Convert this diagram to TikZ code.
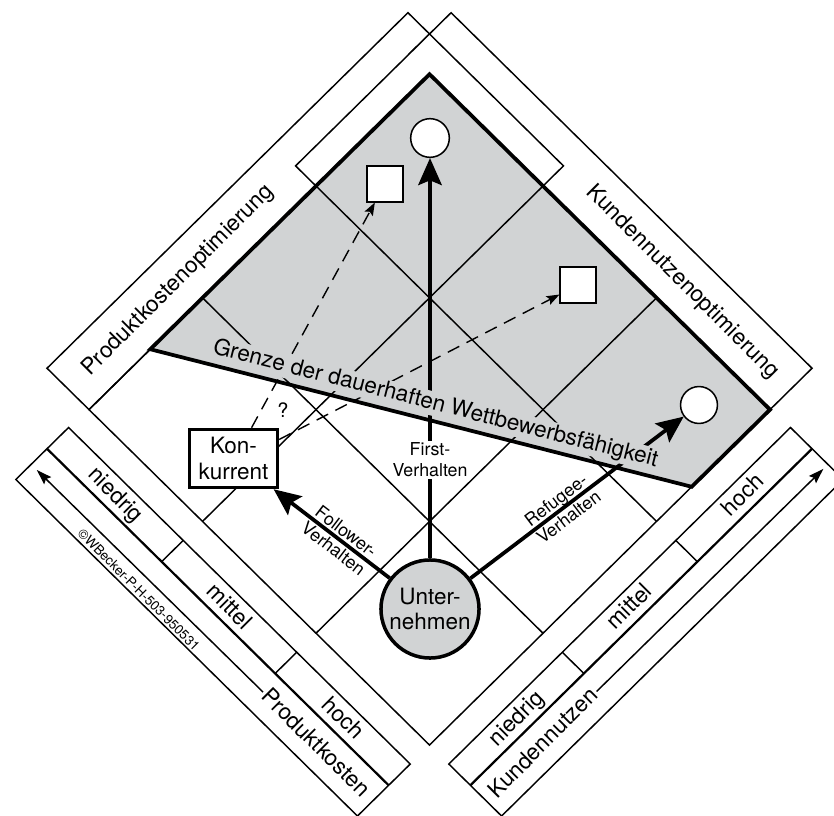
\documentclass[tikz,border=0pt]{standalone}
\usepackage{fontspec}
\setmainfont{TeX Gyre Heros}
\usetikzlibrary{arrows.meta}
\definecolor{matrixgray}{RGB}{209,211,212}
\tikzset{
  thinline/.style={line width=1.25pt},
  band/.style={line width=1.25pt, fill=white},
  divider/.style={line width=1.9pt},
  boundary/.style={line width=3.2pt, line join=miter},
  bigtext/.style={font=\fontsize{19.2}{22}\selectfont, align=center, inner sep=1pt},
  smalltext/.style={font=\fontsize{15.2}{18}\selectfont, align=center, inner sep=1pt},
  tinytext/.style={font=\fontsize{11.4}{13}\selectfont, inner sep=0pt},
  bandtext/.style={font=\fontsize{19.2}{22}\selectfont, inner sep=1pt, text height=14pt, text depth=4pt},
  marker/.style={draw, line width=1.3pt, fill=white, inner sep=0pt},
  move/.style={line width=3.2pt, -{Stealth[length=23pt,width=20pt,inset=4pt]}},
  probe/.style={line width=1.2pt, dash pattern=on 11pt off 7pt, -{Stealth[length=11pt,width=8pt,inset=2pt]}},
  axisarrow/.style={line width=1.25pt, -{Stealth[length=13pt,width=8.5pt,inset=2pt]}},
}
\begin{document}
\begin{tikzpicture}[x=0.03cm, y=-0.03cm, thinline]
\useasboundingbox (0,0) rectangle (834,816);
\clip (0,0) rectangle (834,816);

% rotated frame, origin in the bottom corner of the matrix
\begin{scope}[shift={(12.885cm,-22.35cm)}, x={(3.405cm,3.354cm)}, y={(-3.405cm,3.354cm)}]
% optimisation bands and top cap
\draw[band] (0,3) -- (3.18,3) -- (3.18,3.37) -- (0,3.37) -- cycle;
\draw[band] (3,0) -- (3.37,0) -- (3.37,3.18) -- (3,3.18) -- cycle;
\draw[band] (2,2) -- (3.18,2) -- (3.18,3.18) -- (2,3.18) -- cycle;
\node[bandtext, rotate=45] (pko) at (0.97,3.185) {Produktkostenoptimierung};
\node[bandtext, rotate=-45] (kno) at (3.185,0.955) {Kundennutzenoptimierung};
% axis bands
\draw[band] (-0.635,0) -- (-0.17,0) -- (-0.17,3.01) -- (-0.635,3.01) -- cycle;
\draw[divider] (-0.36,0) -- (-0.36,3.01);
\draw (-0.36,1) -- (-0.17,1) (-0.36,2) -- (-0.17,2);
\draw[band] (0,-0.635) -- (3.01,-0.635) -- (3.01,-0.17) -- (0,-0.17) -- cycle;
\draw[divider] (0,-0.36) -- (3.01,-0.36);
\draw (1,-0.36) -- (1,-0.17) (2,-0.36) -- (2,-0.17);
\foreach \t/\p in {niedrig/2.5, mittel/1.5, hoch/0.5}
  \node[bandtext, rotate=-45] at (-0.27,\p) {\t};
\foreach \t/\p in {niedrig/0.5, mittel/1.5, hoch/2.5}
  \node[bandtext, rotate=45] at (\p,-0.27) {\t};
\node[bandtext, rotate=-45] (pk) at (-0.5,0.51) {Produktkosten};
\node[bandtext, rotate=45] (kn) at (0.51,-0.5) {Kundennutzen};
\coordinate (pkend) at (-0.5,2.96);
\coordinate (knend) at (2.97,-0.5);
\draw[axisarrow] (pk.west) -- (pkend);
\draw[axisarrow] (kn.east) -- (knend);
\node[tinytext, rotate=-45] (copy) at (-0.585,1.975) {©WBecker-P-H-503-950531};
% matrix
\fill[matrixgray] (0.54,3) -- (3,3) -- (3,0) -- (2.31,0) -- cycle;
\draw (0,0) -- (3,0) -- (3,3) -- (0,3) -- cycle;
\foreach \i in {1,2} {
  \draw (\i,0) -- (\i,3);
  \draw (0,\i) -- (3,\i);
}
\coordinate (g1) at (0.54,3);
\coordinate (g2) at (2.31,0);
\coordinate (apex) at (3,3);
\coordinate (corner) at (3,0);
\end{scope}

% positions and players
\node[marker, circle, minimum size=33pt] (firstgoal) at (430,138) {};
\node[marker, minimum size=30.3pt] (rival1) at (385,184) {};
\node[marker, minimum size=30.3pt] (rival2) at (578,285) {};
\node[marker, circle, minimum size=31.5pt] (refugeegoal) at (699,405) {};
\node[bigtext, draw, line width=3pt, fill=white, minimum width=75pt, minimum height=49.5pt] (konkurrent) at (233.5,458.5) {Kon-\\kurrent};
\node[bigtext, draw, line width=3pt, fill=matrixgray, circle, minimum size=83.7pt] (unternehmen) at (430,609) {Unter-\\nehmen};

% behaviour arrows
\draw[move] (unternehmen) -- (firstgoal);
\draw[move] (unternehmen) -- node[smalltext, sloped, pos=0.43] {Follower-\\Verhalten} (konkurrent);
\draw[move] (unternehmen) -- node[smalltext, sloped, pos=0.43] {Refugee-\\Verhalten} (refugeegoal);
\draw[probe] ([xshift=15.4pt]konkurrent.north) -- (rival1);
\draw[probe] ([yshift=-10pt]konkurrent.north east) -- (rival2);
\node[font=\fontsize{17}{20}\selectfont, inner sep=1pt] (frage) at (283,410) {?};
\node[smalltext, fill=white, inner sep=1.5pt] (firstlabel) at (430,460) {First-\\Verhalten};

% border of lasting competitiveness
\node[font=\fontsize{19.2}{22}\selectfont, fill=matrixgray, inner sep=1pt, rotate=-14.3, anchor=base] (grenze) at (434,410) {Grenze der dauerhaften Wettbewerbsfähigkeit};
\draw[boundary] (g1) -- (apex) -- (corner) -- (g2) -- cycle;
\end{tikzpicture}
\end{document}
